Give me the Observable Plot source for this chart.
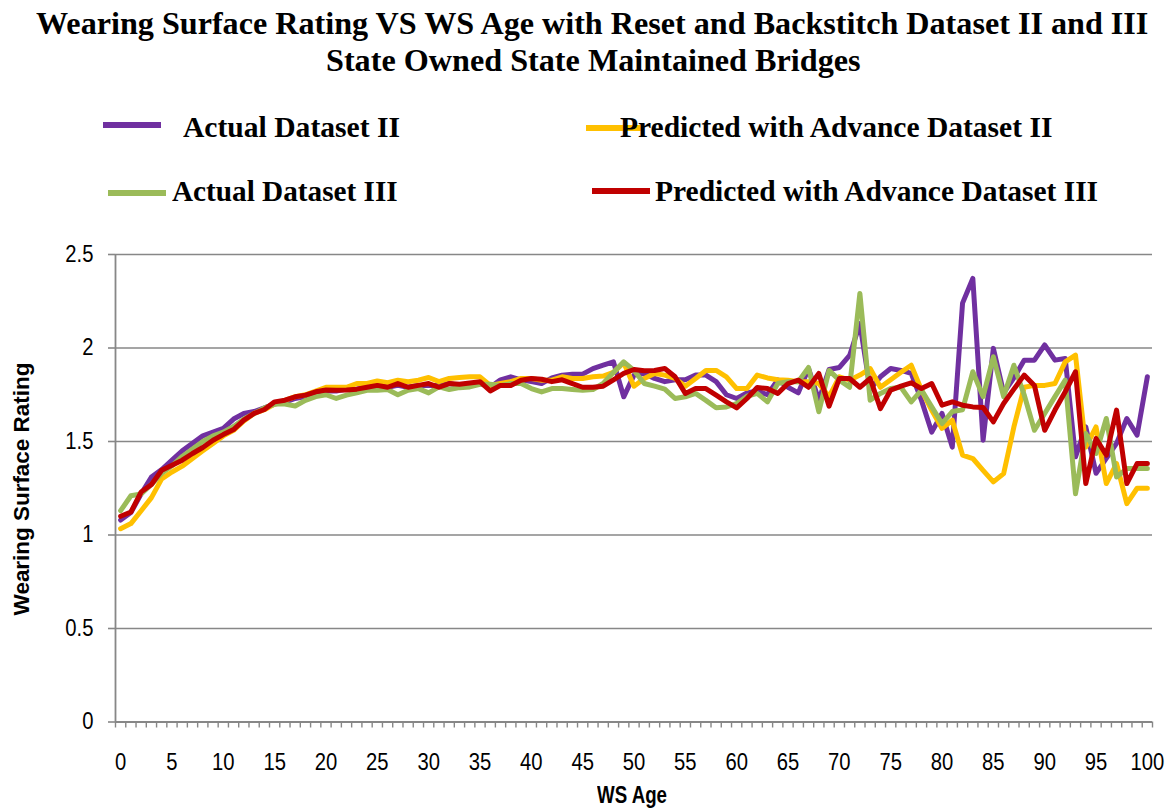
<!DOCTYPE html>
<html>
<head>
<meta charset="utf-8">
<script src="https://cdn.jsdelivr.net/npm/d3@7"></script>
<script src="https://cdn.jsdelivr.net/npm/@observablehq/plot@0.6"></script>
<style>
  html, body { margin: 0; padding: 0; background: #fff; }
  #wrap { position: relative; width: 1173px; height: 812px; overflow: hidden; }
  #head { position: relative; width: 1173px; height: 240px; }
  .t { position: absolute; white-space: nowrap; line-height: 1; color: #000; }
  .sw { position: absolute; height: 6px; }
</style>
</head>
<body>
<div id="wrap">
  <div id="head"></div>
  <div id="chart"></div>
</div>
<script>
// ---- data ----
const ages = Array.from({length: 101}, (_, i) => i);
const xTickLabels = [0, 5, 10, 15, 20, 25, 30, 35, 40, 45, 50, 55, 60, 65, 70, 75, 80, 85, 90, 95, 100];
const yTickLabels = [0, 0.5, 1, 1.5, 2, 2.5];

const actualII = [
  1.08, 1.12, 1.22, 1.31, 1.35, 1.40, 1.45, 1.49, 1.53, 1.55, 1.57, 1.62, 1.65, 1.66, 1.68, 1.70, 1.71, 1.73, 1.74, 1.76,
  1.77, 1.77, 1.78, 1.78, 1.79, 1.80, 1.79, 1.80, 1.79, 1.80, 1.80, 1.80, 1.81, 1.80, 1.81, 1.81, 1.79, 1.83, 1.846, 1.83,
  1.82, 1.81, 1.84, 1.855, 1.86, 1.86, 1.89, 1.908, 1.926, 1.739, 1.855, 1.864, 1.837, 1.82, 1.83, 1.83, 1.855, 1.855, 1.82, 1.75,
  1.73, 1.76, 1.77, 1.75, 1.83, 1.79, 1.76, 1.89, 1.72, 1.885, 1.896, 1.96, 2.13, 1.78, 1.846, 1.89, 1.88, 1.864, 1.72, 1.55,
  1.65, 1.47, 2.24, 2.372, 1.507, 1.998, 1.76, 1.84, 1.935, 1.935, 2.016, 1.935, 1.944, 1.418, 1.578, 1.33, 1.41, 1.49, 1.623, 1.534,
  1.846
];
const predictedII = [
  1.034, 1.061, 1.13, 1.20, 1.30, 1.337, 1.368, 1.409, 1.45, 1.49, 1.53, 1.56, 1.61, 1.65, 1.67, 1.70, 1.72, 1.74, 1.75, 1.77,
  1.79, 1.79, 1.79, 1.81, 1.81, 1.824, 1.815, 1.828, 1.82, 1.828, 1.842, 1.82, 1.837, 1.842, 1.846, 1.846, 1.80, 1.81, 1.82, 1.837,
  1.837, 1.828, 1.828, 1.846, 1.837, 1.837, 1.846, 1.85, 1.87, 1.921, 1.796, 1.837, 1.864, 1.855, 1.837, 1.796, 1.837, 1.88, 1.88, 1.846,
  1.783, 1.783, 1.855, 1.84, 1.83, 1.828, 1.82, 1.82, 1.81, 1.74, 1.846, 1.828, 1.855, 1.89, 1.79, 1.83, 1.87, 1.908, 1.775, 1.667,
  1.57, 1.614, 1.427, 1.409, 1.346, 1.284, 1.328, 1.578, 1.79, 1.80, 1.80, 1.81, 1.926, 1.962, 1.47, 1.578, 1.275, 1.382, 1.168, 1.25,
  1.25
];
const actualIII = [
  1.13, 1.21, 1.22, 1.27, 1.33, 1.37, 1.42, 1.46, 1.50, 1.53, 1.55, 1.58, 1.62, 1.65, 1.68, 1.70, 1.70, 1.69, 1.72, 1.74,
  1.75, 1.73, 1.748, 1.76, 1.774, 1.774, 1.778, 1.75, 1.774, 1.783, 1.76, 1.792, 1.778, 1.788, 1.792, 1.806, 1.806, 1.80, 1.81, 1.81,
  1.783, 1.765, 1.783, 1.783, 1.778, 1.774, 1.778, 1.81, 1.87, 1.926, 1.88, 1.81, 1.796, 1.78, 1.73, 1.739, 1.757, 1.72, 1.68, 1.685,
  1.703, 1.742, 1.757, 1.712, 1.81, 1.82, 1.82, 1.896, 1.659, 1.88, 1.828, 1.79, 2.292, 1.721, 1.757, 1.783, 1.79, 1.712, 1.775, 1.685,
  1.596, 1.66, 1.67, 1.873, 1.74, 1.953, 1.74, 1.908, 1.75, 1.56, 1.65, 1.74, 1.828, 1.22, 1.543, 1.436, 1.623, 1.31, 1.355, 1.355,
  1.355
];
const predictedIII = [
  1.10, 1.123, 1.23, 1.27, 1.346, 1.373, 1.40, 1.436, 1.468, 1.507, 1.537, 1.564, 1.614, 1.65, 1.671, 1.712, 1.721, 1.739, 1.748, 1.766,
  1.775, 1.774, 1.776, 1.78, 1.79, 1.80, 1.79, 1.81, 1.79, 1.80, 1.81, 1.79, 1.81, 1.806, 1.813, 1.82, 1.77, 1.80, 1.80, 1.828,
  1.837, 1.833, 1.82, 1.83, 1.81, 1.79, 1.79, 1.796, 1.83, 1.864, 1.885, 1.878, 1.88, 1.89, 1.846, 1.757, 1.783, 1.783, 1.748, 1.712,
  1.68, 1.73, 1.789, 1.783, 1.757, 1.81, 1.828, 1.79, 1.864, 1.689, 1.837, 1.837, 1.79, 1.837, 1.676, 1.775, 1.796, 1.814, 1.783, 1.81,
  1.694, 1.712, 1.694, 1.685, 1.682, 1.605, 1.703, 1.78, 1.855, 1.80, 1.56, 1.668, 1.766, 1.873, 1.275, 1.516, 1.427, 1.668, 1.275, 1.382,
  1.382
];

const seriesNames = ["Actual Dataset II", "Predicted with Advance Dataset II", "Actual Dataset III", "Predicted with Advance Dataset III"];
const seriesValues = [actualII, predictedII, actualIII, predictedIII];
const seriesColors = ["#7030A0", "#FFC000", "#9BBB59", "#C00000"];

// ---- chart ----
const rows = seriesValues.map((vals, s) => ages.map((a, i) => ({age: a, value: vals[i], series: seriesNames[s]})));
const boundaries = Array.from({length: ages.length + 1}, (_, i) => i - 0.5);
const gridColor = "#878787";

const lineMarks = rows.map((r, s) => Plot.line(r, {
  x: "age", y: "value", stroke: seriesColors[s], strokeWidth: 5,
  strokeLinejoin: "round", strokeLinecap: "round"
}));

const chart = Plot.plot({
  width: 1173,
  height: 572,
  marginTop: 14,
  marginBottom: 90.5,
  marginLeft: 115,
  marginRight: 21,
  style: {fontFamily: "'Liberation Sans', Arial, sans-serif", fontSize: "23px", color: "#000", background: "#fff", overflow: "visible"},
  x: {domain: [-0.5, 100.5]},
  y: {domain: [0, 2.5]},
  marks: [
    Plot.gridY(yTickLabels.filter(d => d > 0), {stroke: gridColor, strokeOpacity: 1, strokeWidth: 1.6}),
    Plot.ruleY([0], {stroke: gridColor, strokeWidth: 1.8}),
    Plot.ruleX([-0.5], {stroke: gridColor, strokeWidth: 1.8}),
    Plot.axisY({ticks: yTickLabels, tickSize: 7, tickPadding: 15, tickFormat: d => String(d), stroke: gridColor, strokeWidth: 1.6, label: null, fill: "#000"}),
    Plot.axisX({ticks: boundaries, tickSize: 6, tickFormat: () => "", stroke: gridColor, strokeWidth: 1.4, label: null}),
    Plot.axisX({ticks: xTickLabels, tickSize: 0, tickPadding: 32, tickFormat: d => String(d), label: null, fill: "#000"}),
    ...lineMarks
  ]
});
document.getElementById("chart").appendChild(chart);

// narrow the tick labels horizontally (reference text is condensed)
chart.querySelectorAll("text").forEach(el => {
  const t = el.getAttribute("transform");
  if (t && t.includes("translate")) {
    el.setAttribute("transform", t + " scale(0.88,1)");
  } else {
    const x = +(el.getAttribute("x") || 0), y = +(el.getAttribute("y") || 0);
    el.removeAttribute("x"); el.removeAttribute("y");
    el.setAttribute("transform", `${t || ""} translate(${x},${y}) scale(0.88,1)`);
  }
});

// ---- titles, legend, axis titles ----
const wrap = document.getElementById("wrap");
function place(text, o) {
  const s = document.createElement("span");
  s.className = "t";
  s.textContent = text;
  s.style.fontFamily = o.family;
  s.style.fontWeight = "bold";
  s.style.fontSize = o.size + "px";
  wrap.appendChild(s);
  const w = s.offsetWidth;
  const k = o.width / w;
  if (o.rotate) {
    s.style.left = o.cx + "px";
    s.style.top = o.cy + "px";
    s.style.transformOrigin = "50% 50%";
    s.style.transform = `translate(-50%,-50%) rotate(-90deg) scaleX(${k})`;
  } else {
    const left = o.left !== undefined ? o.left : o.cx - o.width / 2;
    s.style.left = left + "px";
    s.style.top = (o.cy - 0.56 * o.size) + "px";
    s.style.transformOrigin = "0 0";
    s.style.transform = `scaleX(${k})`;
  }
  return s;
}
function swatch(color, left, width, cy) {
  const d = document.createElement("div");
  d.className = "sw";
  d.style.background = color;
  d.style.left = left + "px";
  d.style.width = width + "px";
  d.style.top = (cy - 3) + "px";
  wrap.appendChild(d);
}
const serif = "'Liberation Serif', 'Times New Roman', serif";
const sans = "'Liberation Sans', Arial, sans-serif";

place("Wearing Surface Rating VS WS Age with Reset and Backstitch Dataset II and III", {family: serif, size: 32, cx: 592, width: 1112, cy: 25});
place("State Owned State Maintained Bridges", {family: serif, size: 32, cx: 593, width: 535, cy: 62});

swatch(seriesColors[0], 103, 58, 125);
swatch(seriesColors[2], 108, 58, 193);
swatch(seriesColors[3], 592, 58, 191);
swatch(seriesColors[1], 586, 58, 128);
place(seriesNames[0], {family: serif, size: 30, left: 183, width: 217, cy: 129});
place(seriesNames[1], {family: serif, size: 30, left: 620, width: 432, cy: 129});
place(seriesNames[2], {family: serif, size: 30, left: 172, width: 226, cy: 193});
place(seriesNames[3], {family: serif, size: 30, left: 655, width: 443, cy: 193});

place("WS Age", {family: sans, size: 23, cx: 632, width: 70, cy: 797});
place("Wearing Surface Rating", {family: sans, size: 22, cx: 22, cy: 489, width: 253, rotate: true});
</script>
</body>
</html>
